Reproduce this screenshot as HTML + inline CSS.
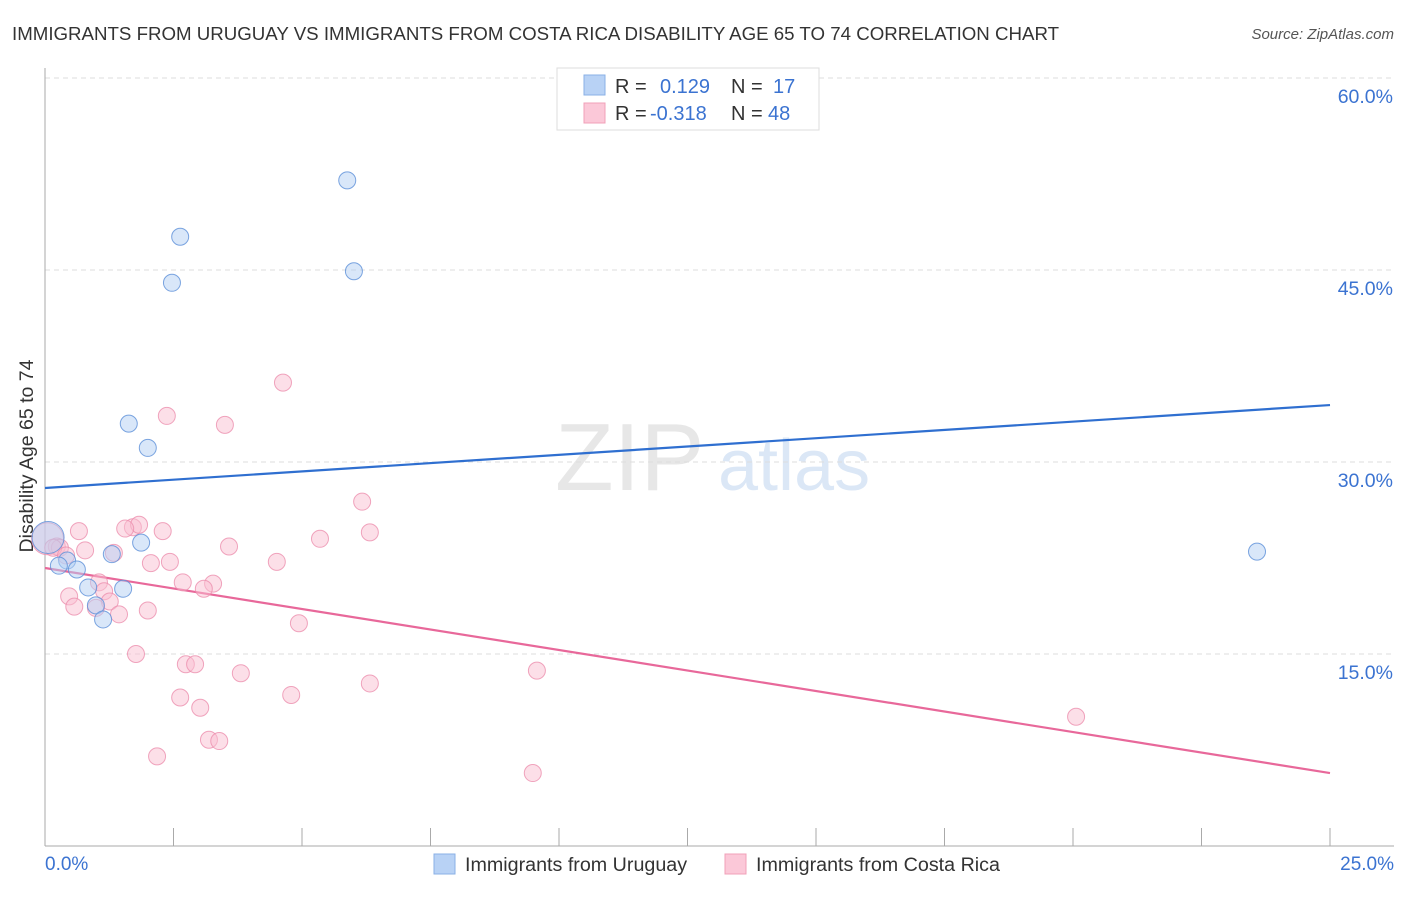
<!DOCTYPE html>
<html><head><meta charset="utf-8"><style>
body{margin:0;background:#fff;font-family:"Liberation Sans",sans-serif}
svg text{font-family:"Liberation Sans",sans-serif}
</style></head><body>
<svg id="chart" width="1406" height="892" xmlns="http://www.w3.org/2000/svg">
<text x="12" y="40" font-size="18.7" fill="#333">IMMIGRANTS FROM URUGUAY VS IMMIGRANTS FROM COSTA RICA DISABILITY AGE 65 TO 74 CORRELATION CHART</text>
<text x="1394" y="39" font-size="15" fill="#555" text-anchor="end" font-style="italic">Source: ZipAtlas.com</text>
<text transform="translate(33,456) rotate(-90)" font-size="19.5" fill="#333" text-anchor="middle">Disability Age 65 to 74</text>
<g opacity="0.35">
<text x="555" y="490" font-size="96" font-family="Liberation Serif" fill="#bbb">ZIP</text>
<text x="718" y="490" font-size="72" fill="#9bbbe6">atlas</text>
</g>
<g id="grid"></g><g id="axes"></g><g id="lines"></g><g id="pts"></g>
<g>
<rect x="557" y="68" width="262" height="62" fill="#fff" stroke="#ddd"/>
<rect x="584" y="75" width="21" height="20" fill="#b8d2f5" stroke="#8ab0e6"/>
<rect x="584" y="103" width="21" height="20" fill="#fbc8d8" stroke="#f0a0b8"/>
<text x="615" y="93" font-size="20" fill="#333">R =</text><text x="660" y="93" font-size="20" fill="#3b73d1">0.129</text>
<text x="731" y="93" font-size="20" fill="#333">N =</text><text x="773" y="93" font-size="20" fill="#3b73d1">17</text>
<text x="615" y="120" font-size="20" fill="#333">R =</text><text x="650" y="120" font-size="20" fill="#3b73d1">-0.318</text>
<text x="731" y="120" font-size="20" fill="#333">N =</text><text x="768" y="120" font-size="20" fill="#3b73d1">48</text>
</g>
<g>
<rect x="434" y="854" width="21" height="20" fill="#b8d2f5" stroke="#8ab0e6"/>
<text x="465" y="871" font-size="19.7" fill="#333">Immigrants from Uruguay</text>
<rect x="725" y="854" width="21" height="20" fill="#fbc8d8" stroke="#f0a0b8"/>
<text x="756" y="871" font-size="19.7" fill="#333">Immigrants from Costa Rica</text>
</g>
</svg>
<script>
const yTicks=[15,30,45,60];
const yTickLabels=["15.0%","30.0%","45.0%","60.0%"];
const xTicks=[0,2.5,5,7.5,10,12.5,15,17.5,20,22.5,25];
const uruguayX=[5.88,2.63,2.47,6.01,1.63,2.00,23.58,1.87,1.30,0.43,0.62,0.27,0.84,1.52,0.99,1.13,0.06];
const uruguayY=[52.0,47.6,44.0,44.9,33.0,31.1,23.0,23.7,22.8,22.3,21.6,21.9,20.2,20.1,18.8,17.7,24.1];
const costaRicaX=[0.05,4.63,2.37,3.50,6.17,6.32,5.35,0.66,1.71,1.83,1.56,2.29,0.78,1.34,0.23,3.58,2.43,2.06,4.51,2.68,3.27,1.05,3.09,0.47,1.15,1.26,0.57,2.00,1.44,4.94,1.77,2.74,2.92,3.81,9.57,6.32,2.63,4.79,3.02,3.19,3.39,2.18,9.49,20.06,0.99,0.29,0.16,0.41];
const costaRicaY=[24.0,36.2,33.6,32.9,26.9,24.5,24.0,24.6,24.9,25.1,24.8,24.6,23.1,22.9,23.4,23.4,22.2,22.1,22.2,20.6,20.5,20.6,20.1,19.5,19.9,19.1,18.7,18.4,18.1,17.4,15.0,14.2,14.2,13.5,13.7,12.7,11.6,11.8,10.8,8.3,8.2,7.0,5.7,10.1,18.6,23.3,23.3,22.7];
const uruguayTrend=[27.97,34.45];
const costaRicaTrend=[21.72,5.70];
const NS="http://www.w3.org/2000/svg";
const xs=v=>45+v/25*1285, ys=v=>846-v/60*768;
function mk(tag,attrs,parent){const e=document.createElementNS(NS,tag);for(const k in attrs)e.setAttribute(k,attrs[k]);document.getElementById(parent).appendChild(e);return e;}
yTicks.forEach((t,i)=>{
 const l=mk('line',{x1:45,x2:1394,y1:ys(t),y2:ys(t),stroke:'#ddd','stroke-dasharray':'5,4'},'grid');
 
 
 const tx=mk('text',{x:1393,y:ys(t)+25,'font-size':19.5,fill:'#3b73d1','text-anchor':'end'},'grid');
 tx.textContent=yTickLabels[i];
 
 
});
let a=mk('line',{x1:45,x2:45,y1:68,y2:846,stroke:'#aaa'},'axes');


a=mk('line',{x1:45,x2:1394,y1:846,y2:846,stroke:'#aaa'},'axes');


xTicks.forEach(t=>{const l=mk('line',{x1:xs(t),x2:xs(t),y1:828,y2:846,stroke:'#aaa'},'axes');
 
 });
let t=mk('text',{x:45,y:870,'font-size':19,fill:'#3b73d1'},'axes');t.textContent='0.0%';


t=mk('text',{x:1394,y:870,'font-size':19,fill:'#3b73d1','text-anchor':'end'},'axes');t.textContent='25.0%';


function pts(X,Y,fill,stroke,name,bigIdx){X.forEach((x,i)=>{
 const c=mk('circle',{cx:xs(x),cy:ys(Y[i]),r:i===bigIdx?16:8.5,fill:fill,'fill-opacity':0.5,stroke:stroke,'stroke-opacity':0.8},'pts');
 
 });}
pts(costaRicaX,costaRicaY,'#f9c0d2','#ec8fae','costa-rica-point',0);
pts(uruguayX,uruguayY,'#b4cff3','#5b8fd8','uruguay-point',16);
let tl=mk('line',{x1:xs(0),y1:ys(uruguayTrend[0]),x2:xs(25),y2:ys(uruguayTrend[1]),stroke:'#2f6fd0','stroke-width':2.2},'lines');


tl=mk('line',{x1:xs(0),y1:ys(costaRicaTrend[0]),x2:xs(25),y2:ys(costaRicaTrend[1]),stroke:'#e8689a','stroke-width':2.2},'lines');


</script>
</body></html>
